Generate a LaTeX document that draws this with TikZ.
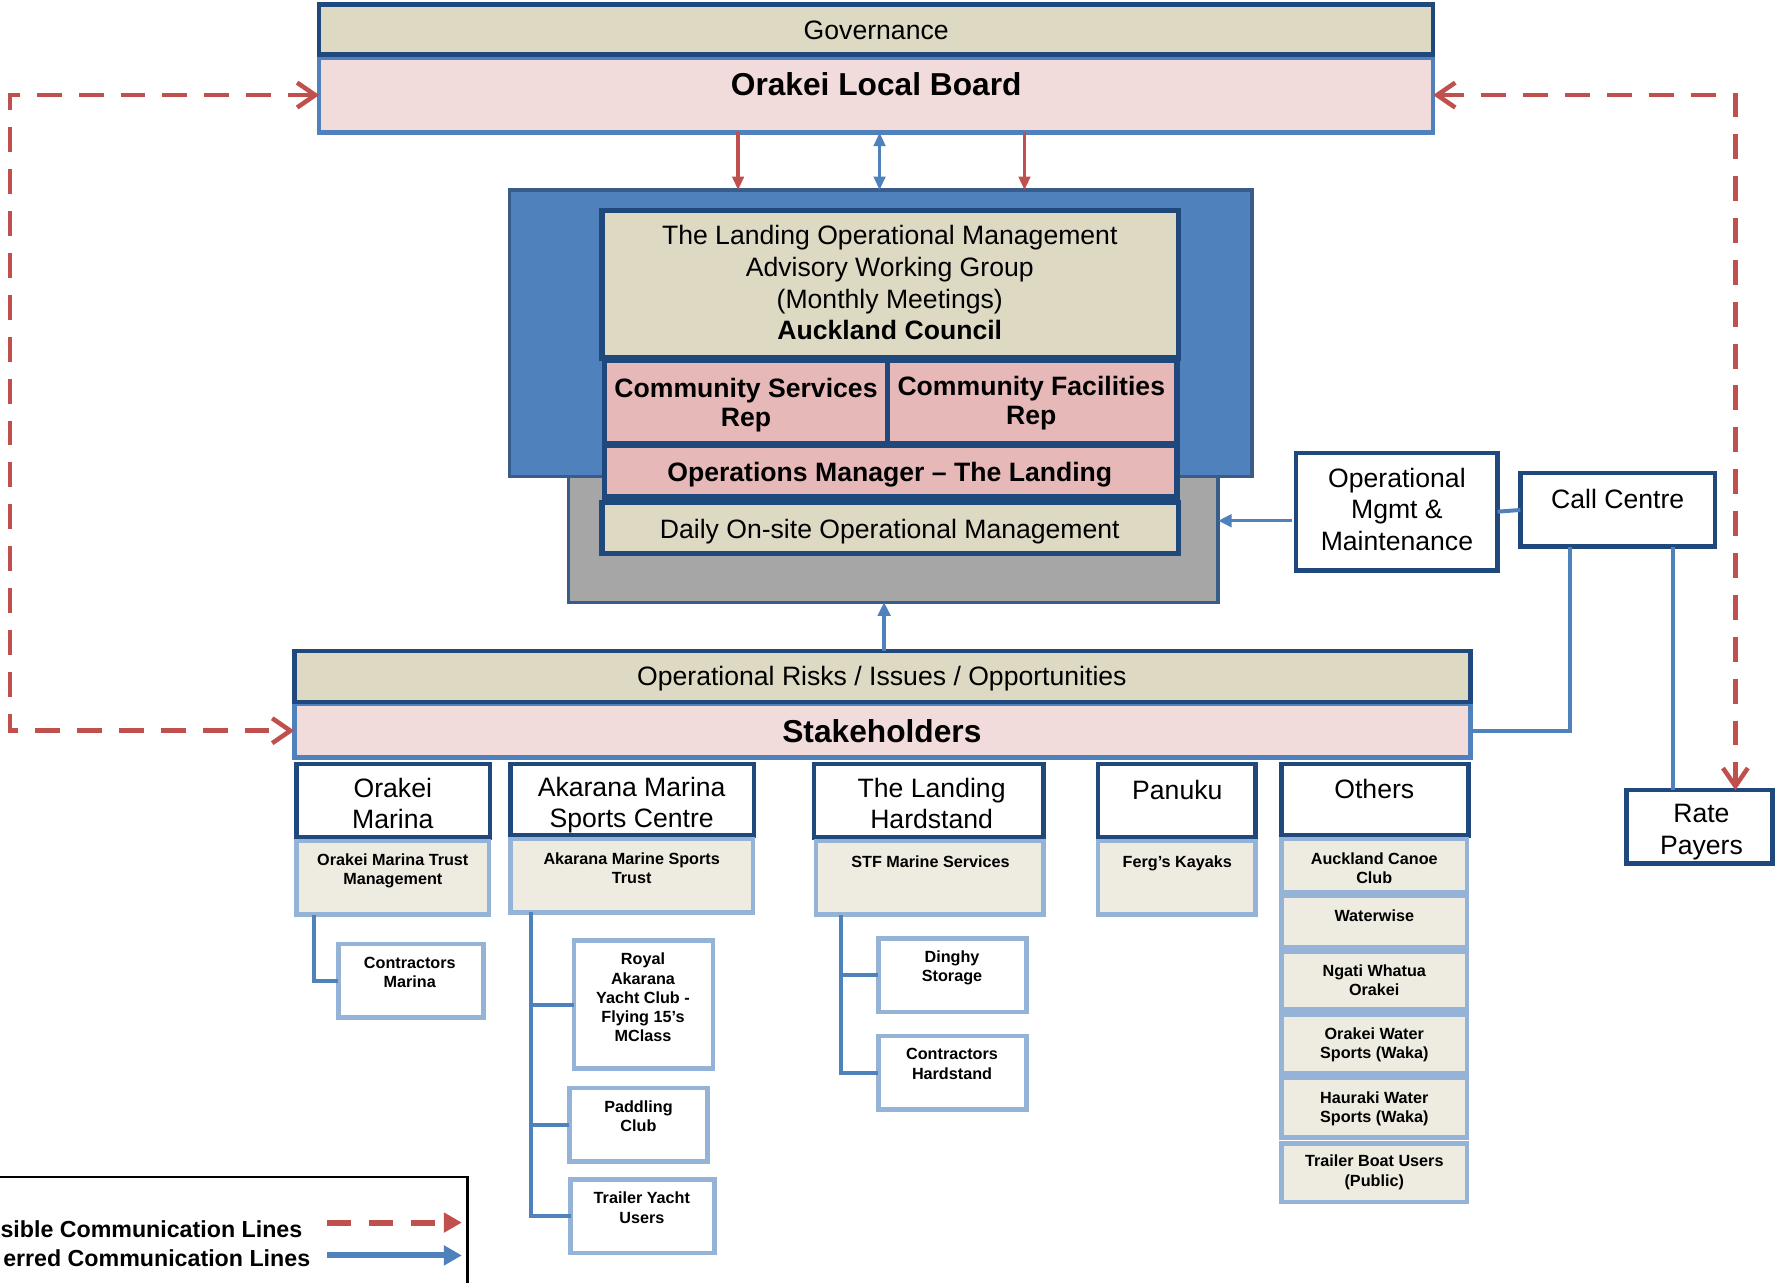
\documentclass[tikz,border=0pt]{standalone}
\usepackage{fontspec}
\setmainfont{Liberation Sans}
\usetikzlibrary{arrows.meta}
\definecolor{dkblue}{HTML}{1F497D}
\definecolor{mdblue}{HTML}{4F81BD}
\definecolor{bxborder}{HTML}{385D8A}
\definecolor{tanc}{HTML}{DDD9C3}
\definecolor{ltanc}{HTML}{EEECE1}
\definecolor{pinkA}{HTML}{F2DCDB}
\definecolor{pinkB}{HTML}{E6B9B8}
\definecolor{ltblue}{HTML}{95B3D7}
\definecolor{redc}{HTML}{C0504D}
\definecolor{grayc}{HTML}{A6A6A6}
\newcommand\sst[1]{\rule[-0.3\dimexpr#1\relax]{0pt}{#1}}
\newcommand\bx[6]{\node[#2, minimum width={((#5)-(#3))*0.5pt}, minimum height={((#6)-(#4))*0.5pt}] (#1) at ({((#3)+(#5))/2},{((#4)+(#6))/2}) {};}
\begin{document}
\begin{tikzpicture}[x=0.5pt,y=-0.5pt,
  bxbase/.style={rectangle, inner sep=0pt, outer sep=0pt},
  govbox/.style={bxbase, draw=dkblue, fill=tanc, line width=2pt},
  pinkbox/.style={bxbase, draw=mdblue, fill=pinkA, line width=2pt},
  inbox/.style={bxbase, draw=dkblue, line width=2.5pt},
  hdrbox/.style={bxbase, draw=dkblue, fill=white, line width=2pt},
  subbox/.style={bxbase, draw=ltblue, fill=ltanc, line width=2pt},
  kidbox/.style={bxbase, draw=ltblue, fill=white, line width=2pt},
  graybox/.style={bxbase, draw=bxborder, fill=grayc, line width=1.5pt},
  bluebox/.style={bxbase, draw=bxborder, fill=mdblue, line width=1.5pt},
  legbox/.style={bxbase, draw=black, fill=white, line width=1pt},
  tbase/.style={inner sep=0pt, outer sep=0pt, align=center, text=black},
  rtxt/.style={tbase, font=\fontsize{11.75pt}{14pt}\selectfont, execute at begin node=\sst{14pt}, execute at end node=\sst{14pt}},
  btxt/.style={tbase, font=\bfseries\fontsize{11.75pt}{13pt}\selectfont, execute at begin node=\sst{13pt}, execute at end node=\sst{13pt}},
  bigtxt/.style={tbase, font=\bfseries\fontsize{14pt}{17pt}\selectfont, execute at begin node=\sst{17pt}, execute at end node=\sst{17pt}},
  smtxt/.style={tbase, font=\bfseries\fontsize{7.15pt}{8.5pt}\selectfont, execute at begin node=\sst{8.5pt}, execute at end node=\sst{8.5pt}},
  legtxt/.style={tbase, anchor=east, font=\bfseries\fontsize{10.25pt}{12.5pt}\selectfont, execute at begin node=\sst{12.5pt}, execute at end node=\sst{12.5pt}},
  conn/.style={draw=mdblue, line width=1.75pt},
  redarr/.style={draw=redc, line width=1.5pt, -{Triangle[length=6pt,width=5pt]}},
  bluearr/.style={draw=mdblue, line width=1.5pt, -{Triangle[length=6pt,width=5.5pt]}},
  bluedbl/.style={draw=mdblue, line width=1.5pt, {Triangle[length=6pt,width=5pt]}-{Triangle[length=6pt,width=5pt]}},
  dashred/.style={draw=redc, line width=2pt, dash pattern=on 11pt off 7.5pt, {Straight Barb[length=8pt,width=11pt]}-{Straight Barb[length=8pt,width=11pt]}},
  legred/.style={draw=redc, line width=2.6pt, dash pattern=on 10.5pt off 8pt, -{Triangle[length=8pt,width=8.5pt]}},
  legblue/.style={draw=mdblue, line width=2.6pt, -{Triangle[length=8pt,width=8.5pt]}}
]
\useasboundingbox (0,0) rectangle (1568,1133);
\clip (0,0) rectangle (1568,1133);

% helper coordinates for connector positions
\coordinate (x652) at (652,0);
\coordinate (x777) at (777,0);
\coordinate (x905) at (905,0);
\coordinate (x781) at (781,0);
\coordinate (y460) at (0,460);
\coordinate (x1387) at (1387,0);
\coordinate (x1478) at (1478,0);
\coordinate (x1533) at (1533,0);
\coordinate (x9) at (9,0);
\coordinate (x277) at (277,0);
\coordinate (x469) at (469,0);
\coordinate (x743) at (743,0);

% Governance
\bx{olb}{pinkbox}{282}{51}{1266}{117}
\bx{gov}{govbox}{282}{4}{1266}{48}
\node[rtxt] (t-gov) at (774,28.9) {Governance};
\node[bigtxt] (t-olb) at (774,77.3) {Orakei Local Board};

% central group
\bx{gray}{graybox}{502}{400}{1076}{532}
\bx{blue}{bluebox}{450}{168}{1106}{421}
\bx{adv}{inbox, fill=tanc}{532}{186}{1041}{316}
\bx{csr}{inbox, fill=pinkB}{534}{318}{784}{392}
\bx{cfr}{inbox, fill=pinkB}{784}{318}{1040}{392}
\bx{opm}{inbox, fill=pinkB}{534}{393}{1040}{439}
\bx{daily}{inbox, fill=tanc}{532}{444}{1041}{489}
\node[rtxt] (t-adv) at (786,253.9) {The Landing Operational Management\\Advisory Working Group\\(Monthly Meetings)\\\textbf{Auckland Council}};
\node[btxt] (t-csr) at (659,359.3) {Community Services\\Rep};
\node[btxt] (t-cfr) at (911,357.8) {Community Facilities\\Rep};
\node[btxt] (t-opm) at (786,420.3) {Operations Manager – The Landing};
\node[rtxt] (t-daily) at (786,469.9) {Daily On-site Operational Management};

% right side
\bx{om}{hdrbox}{1145}{400}{1323}{504}
\bx{cc}{hdrbox}{1343}{418}{1515}{483}
\bx{rp}{hdrbox}{1437}{698}{1566}{763}
\node[rtxt] (t-om) at (1234,453.9) {Operational\\Mgmt \&\\Maintenance};
\node[rtxt] (t-cc) at (1429,443.9) {Call Centre};
\node[rtxt] (t-rp) at (1503,736.9) {Rate\\Payers};

% stakeholders
\bx{stk}{pinkbox}{260}{622}{1299}{669}
\bx{risk}{govbox}{260}{575}{1299}{620}
\node[rtxt] (t-risk) at (779,599.9) {Operational Risks / Issues / Opportunities};
\node[bigtxt] (t-stk) at (779,649.3) {Stakeholders};

% headers
\bx{h1}{hdrbox}{262}{675}{433}{740}
\bx{h2}{hdrbox}{451}{675}{666}{738}
\bx{h3}{hdrbox}{719}{675}{922}{740}
\bx{h4}{hdrbox}{970}{675}{1109}{740}
\bx{h5}{hdrbox}{1132}{675}{1297}{738}
\node[rtxt] (t-h1) at (347,713.9) {Orakei\\Marina};
\node[rtxt] (t-h2) at (558,712.9) {Akarana Marina\\Sports Centre};
\node[rtxt] (t-h3) at (823,713.9) {The Landing\\Hardstand};
\node[rtxt] (t-h4) at (1040,700.9) {Panuku};
\node[rtxt] (t-h5) at (1214,699.9) {Others};

% sub boxes
\bx{s1}{subbox}{262}{743}{432}{808}
\bx{s2}{subbox}{451}{741}{665}{806}
\bx{s3}{subbox}{721}{743}{922}{808}
\bx{s4}{subbox}{970}{743}{1109}{808}
\bx{o1}{subbox}{1132}{741}{1296}{788}
\bx{o2}{subbox}{1132}{791}{1296}{837}
\bx{o3}{subbox}{1132}{841}{1296}{892}
\bx{o4}{subbox}{1132}{896}{1296}{948}
\bx{o5}{subbox}{1132}{952}{1296}{1005}
\bx{o6}{subbox}{1132}{1010}{1296}{1062}
\node[smtxt] (t-s1) at (347,770.25) {Orakei Marina Trust\\Management};
\node[smtxt] (t-s2) at (558,769.25) {Akarana Marine Sports\\Trust};
\node[smtxt] (t-s3) at (822,762.75) {STF Marine Services};
\node[smtxt] (t-s4) at (1040,762.75) {Ferg’s Kayaks};
\node[smtxt] (t-o1) at (1214,769.25) {Auckland Canoe\\Club};
\node[smtxt] (t-o2) at (1214,810.75) {Waterwise};
\node[smtxt] (t-o3) at (1214,868.25) {Ngati Whatua\\Orakei};
\node[smtxt] (t-o4) at (1214,923.75) {Orakei Water\\Sports (Waka)};
\node[smtxt] (t-o5) at (1214,980.25) {Hauraki Water\\Sports (Waka)};
\node[smtxt] (t-o6) at (1214,1036.75) {Trailer Boat Users\\(Public)};

% child boxes
\bx{cm}{kidbox}{299}{834}{427}{899}
\bx{ray}{kidbox}{507}{831}{630}{944}
\bx{pc}{kidbox}{503}{961}{625}{1026}
\bx{tyu}{kidbox}{504}{1042}{631}{1107}
\bx{ds}{kidbox}{776}{829}{907}{894}
\bx{ch}{kidbox}{776}{915}{907}{980}
\node[smtxt] (t-cm) at (362,861.25) {Contractors\\Marina};
\node[smtxt] (t-ray) at (568,883.75) {Royal\\Akarana\\Yacht Club -\\Flying 15’s\\MClass};
\node[smtxt] (t-pc) at (564,988.25) {Paddling\\Club};
\node[smtxt] (t-tyu) at (567,1069.25) {Trailer Yacht\\Users};
\node[smtxt] (t-ds) at (841,856.25) {Dinghy\\Storage};
\node[smtxt] (t-ch) at (841,942.25) {Contractors\\Hardstand};

% connectors
\draw[redarr] (olb.south -| x652) -- (blue.north -| x652);
\draw[redarr] (olb.south -| x905) -- (blue.north -| x905);
\draw[bluedbl] (olb.south -| x777) -- (blue.north -| x777);
\draw[bluearr] (om.west |- y460) ++(-4,0) -- (gray.east |- y460);
\draw[bluearr] (risk.north -| x781) -- (gray.south -| x781);
\draw[conn] (om.east) -- (cc.west);
\draw[conn] (cc.south -| x1387) |- (stk.east);
\draw[conn] (cc.south -| x1478) -- (rp.north -| x1478);
\draw[conn] (s1.south -| x277) |- (cm.west);
\draw[conn] (s2.south -| x469) |- (tyu.west);
\draw[conn] (ray.west -| x469) -- (ray.west);
\draw[conn] (pc.west -| x469) -- (pc.west);
\draw[conn] (s3.south -| x743) |- (ch.west);
\draw[conn] (ds.west -| x743) -- (ds.west);

% dashed possible communication lines
\draw[dashred] (olb.west) -- (olb.west -| x9) -- (stk.west -| x9) -- (stk.west);
\draw[dashred] (olb.east) -- (olb.east -| x1533) -- (rp.north -| x1533);

% legend
\bx{leg}{legbox}{-10}{1040}{413}{1150}
\node[legtxt] (t-l1) at (267,1088.4) {sible Communication Lines};
\node[legtxt] (t-l2) at (274,1113.4) {erred Communication Lines};
\coordinate (la1) at (289,1080);
\coordinate (la2) at (408,1080);
\coordinate (lb1) at (289,1109);
\coordinate (lb2) at (408,1109);
\draw[legred] (la1) -- (la2);
\draw[legblue] (lb1) -- (lb2);
\end{tikzpicture}
\end{document}
